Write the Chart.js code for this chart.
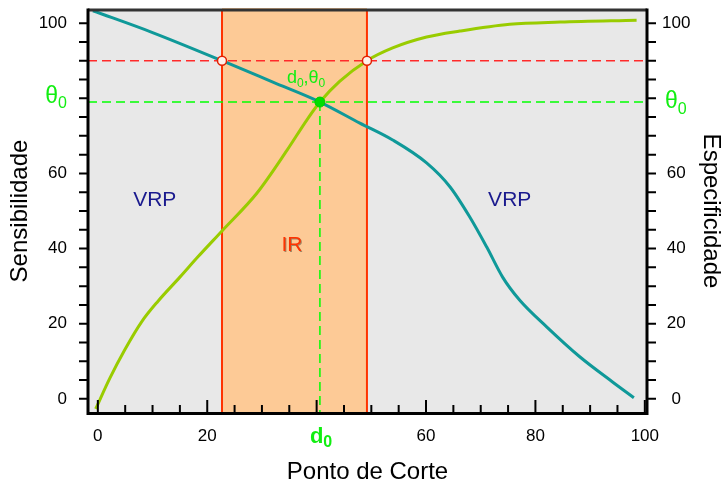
<!DOCTYPE html>
<html>
<head>
<meta charset="utf-8">
<script src="https://cdn.jsdelivr.net/npm/chart.js@4/dist/chart.umd.min.js"></script>
<style>
  html, body { margin: 0; padding: 0; background: #fff; }
  #wrap { width: 725px; height: 488px; }
</style>
</head>
<body>
<div id="wrap"><canvas id="rocChart"></canvas></div>
<script>
// curves (x = ponto de corte)
const specCut = [-0.9, 10, 22.7, 32, 40.6, 47.9, 53.9, 60.1, 64.4, 68, 71.1, 74, 77.1, 82.1, 88.1, 94.1, 98];
const specVals = [103.3, 97.5, 90, 84.3, 79, 73.4, 68.9, 62.8, 56.4, 48.4, 40.4, 32.4, 26.3, 19.1, 11.2, 4.5, 0.3];
const sensCut = [-0.4, 2.2, 4.9, 8, 11, 15, 18.3, 22.7, 29.1, 34.6, 38.2, 40.6, 44.2, 49.2, 53.9, 60.1, 66.2, 75.3, 84.5, 98.5];
const sensVals = [-2.7, 5.5, 13, 20.5, 26, 32.4, 37.8, 44.7, 54.8, 66.2, 74.2, 79, 84.5, 90, 93.4, 96.3, 97.9, 99.7, 100.3, 100.8];

const thetaZero = 79;          // θ0
const dZero = 40.6;            // d0
const irLevel = 90;            // nivel que define o IR
const irBounds = [22.7, 49.2]; // limites do IR

const xRange = [-1.8, 100.4];
const yRange = [-3.5, 103.5];
const xTicks = [0, 20, 40, 60, 80, 100];
const yTicks = [0, 20, 40, 60, 80, 100];
const minorStep = 5;

const regionLabels = ['VRP', 'IR', 'VRP'];
const regionX = [10.4, 35.5, 75.3];
const regionY = [52.9, 41, 52.9];

const FONT = "'Liberation Sans', Arial, sans-serif";
const LIME = '#11ee11';

function toPoints(xs, ys) {
  return xs.map((v, i) => ({ x: v, y: ys[i] }));
}

function drawRuns(ctx, runs, x, y, align) {
  let total = 0;
  runs.forEach(r => { ctx.font = r.font; total += ctx.measureText(r.t).width; });
  let cx = align === 'right' ? x - total : x;
  ctx.textAlign = 'left';
  ctx.textBaseline = 'alphabetic';
  runs.forEach(r => {
    ctx.font = r.font;
    ctx.fillText(r.t, cx, y + (r.dy || 0));
    cx += ctx.measureText(r.t).width;
  });
}

const figurePlugin = {
  id: 'figure',
  beforeDatasetsDraw(chart) {
    const { ctx, chartArea: a, scales: { x } } = chart;
    ctx.save();
    ctx.fillStyle = '#e8e8e8';
    ctx.fillRect(a.left, a.top, a.right - a.left, a.bottom - a.top);
    const x0 = x.getPixelForValue(irBounds[0]);
    const x1 = x.getPixelForValue(irBounds[1]);
    ctx.fillStyle = '#fdca96';
    ctx.fillRect(x0, a.top - 2, x1 - x0, a.bottom - a.top + 4);
    ctx.strokeStyle = '#ff3300';
    ctx.lineWidth = 2;
    [x0, x1].forEach(px => {
      ctx.beginPath();
      ctx.moveTo(px, a.top);
      ctx.lineTo(px, a.bottom);
      ctx.stroke();
    });
    ctx.restore();
  },
  afterDraw(chart) {
    const { ctx, chartArea: a, scales: { x, y } } = chart;
    ctx.save();
    // frame
    ctx.lineWidth = 3;
    ctx.strokeStyle = '#333';
    ctx.beginPath(); ctx.moveTo(a.left, a.top); ctx.lineTo(a.right, a.top); ctx.stroke();
    ctx.strokeStyle = '#000';
    ctx.beginPath();
    ctx.moveTo(a.left, a.top - 1.5); ctx.lineTo(a.left, a.bottom + 1.5);
    ctx.lineTo(a.right, a.bottom + 1.5); ctx.lineTo(a.right, a.top - 1.5);
    ctx.stroke();
    // ticks
    ctx.lineWidth = 2;
    for (let v = 0; v <= 100; v += minorStep) {
      const yp = y.getPixelForValue(v);
      ctx.beginPath();
      ctx.moveTo(a.left - 9, yp); ctx.lineTo(a.left, yp);
      ctx.moveTo(a.right, yp); ctx.lineTo(a.right + 9, yp);
      ctx.stroke();
      const xp = x.getPixelForValue(v);
      const len = v % 20 === 0 ? 12 : 7;
      ctx.beginPath();
      ctx.moveTo(xp, a.bottom); ctx.lineTo(xp, a.bottom - len);
      ctx.stroke();
    }
    // θ0 and d0 tick labels
    const ty = y.getPixelForValue(thetaZero);
    const tx = x.getPixelForValue(dZero);
    ctx.fillStyle = LIME;
    drawRuns(ctx, [
      { t: 'θ', font: `23px ${FONT}` },
      { t: '0', font: `16px ${FONT}`, dy: 5 }
    ], 67, ty + 1, 'right');
    drawRuns(ctx, [
      { t: 'θ', font: `23px ${FONT}` },
      { t: '0', font: `16px ${FONT}`, dy: 6 }
    ], 665, ty + 6, 'left');
    drawRuns(ctx, [
      { t: 'd', font: `bold 22px ${FONT}` },
      { t: '0', font: `bold 16px ${FONT}`, dy: 4 }
    ], tx - 10, 443, 'left');
    drawRuns(ctx, [
      { t: 'd', font: `18px ${FONT}` },
      { t: '0', font: `12px ${FONT}`, dy: 4 },
      { t: ',', font: `18px ${FONT}` },
      { t: 'θ', font: `18px ${FONT}` },
      { t: '0', font: `12px ${FONT}`, dy: 4 }
    ], tx - 33, ty - 19, 'left');
    // region labels
    ctx.font = `21px ${FONT}`;
    ctx.textAlign = 'center';
    ctx.textBaseline = 'middle';
    regionLabels.forEach((t, i) => {
      const px = x.getPixelForValue(regionX[i]);
      const py = y.getPixelForValue(regionY[i]);
      if (t === 'IR') {
        ctx.fillStyle = '#ff3300';
        ctx.shadowColor = 'rgba(0,0,0,0.35)';
        ctx.shadowOffsetX = 1; ctx.shadowOffsetY = 1;
      } else {
        ctx.fillStyle = '#1a1a8e';
        ctx.shadowColor = 'transparent';
      }
      ctx.fillText(t, px, py);
    });
    ctx.restore();
  }
};

function yScale(position, width, padding, crossAlign, titleText, titlePad) {
  return {
    type: 'linear',
    position: position,
    min: yRange[0],
    max: yRange[1],
    afterBuildTicks: s => { s.ticks = yTicks.map(v => ({ value: v })); },
    afterFit: s => { s.width = width; s.paddingTop = 0; s.paddingBottom = 0; },
    grid: { display: false, drawTicks: false },
    border: { display: false },
    ticks: {
      padding: padding,
      crossAlign: crossAlign,
      color: '#000',
      font: { size: 17 },
      callback: v => (v === 80 ? '' : v)
    },
    title: {
      display: true,
      text: titleText,
      color: '#000',
      font: { size: 24 },
      padding: { top: titlePad, bottom: 0 }
    }
  };
}

function buildChart() {
  const ctx = document.getElementById('rocChart').getContext('2d');
  Chart.defaults.font.family = FONT;
  new Chart(ctx, {
    type: 'line',
    data: {
      datasets: [
        {
          data: toPoints(irBounds, [irLevel, irLevel]),
          showLine: false,
          pointRadius: 4.5,
          pointBorderWidth: 1.5,
          pointBorderColor: '#e02000',
          pointBackgroundColor: '#fff1ea'
        },
        {
          data: [{ x: dZero, y: thetaZero }],
          showLine: false,
          pointRadius: 5,
          pointBorderWidth: 1,
          pointBorderColor: '#00cc00',
          pointBackgroundColor: '#00dd00'
        },
        {
          label: 'Especificidade',
          data: toPoints(specCut, specVals),
          borderColor: '#0f9999',
          borderWidth: 3,
          pointRadius: 0,
          cubicInterpolationMode: 'monotone'
        },
        {
          label: 'Sensibilidade',
          data: toPoints(sensCut, sensVals),
          borderColor: '#99cc00',
          borderWidth: 3,
          pointRadius: 0,
          cubicInterpolationMode: 'monotone'
        },
        {
          data: toPoints(xRange, [irLevel, irLevel]),
          borderColor: '#ff2a2a',
          borderWidth: 1.5,
          borderDash: [9, 5],
          pointRadius: 0
        },
        {
          data: toPoints(xRange, [thetaZero, thetaZero]),
          borderColor: '#00ff00',
          borderWidth: 1.5,
          borderDash: [9, 5],
          pointRadius: 0
        },
        {
          data: toPoints([dZero, dZero], [thetaZero, yRange[0]]),
          borderColor: '#00ff00',
          borderWidth: 1.5,
          borderDash: [9, 5],
          pointRadius: 0
        }
      ]
    },
    options: {
      responsive: true,
      maintainAspectRatio: false,
      animation: false,
      events: [],
      layout: { padding: { top: 10, left: 0, right: 0, bottom: 0 } },
      plugins: { legend: { display: false }, tooltip: { enabled: false } },
      scales: {
        x: {
          type: 'linear',
          position: 'bottom',
          min: xRange[0],
          max: xRange[1],
          afterBuildTicks: s => { s.ticks = xTicks.map(v => ({ value: v })); },
          afterFit: s => { s.height = 76; s.paddingLeft = 0; s.paddingRight = 0; },
          grid: { display: false, drawTicks: false },
          border: { display: false },
          ticks: {
            padding: 14,
            color: '#000',
            font: { size: 17 },
            maxRotation: 0,
            callback: v => (v === 40 ? '' : v)
          },
          title: {
            display: true,
            text: 'Ponto de Corte',
            color: '#000',
            font: { size: 24 },
            padding: { top: 0, bottom: 1 }
          }
        },
        y: yScale('left', 88, 21, 'near', 'Sensibilidade', 6),
        y2: yScale('right', 78, 15, 'center', 'Especificidade', 0)
      }
    },
    plugins: [figurePlugin]
  });
}

document.addEventListener('DOMContentLoaded', buildChart);
</script>
</body>
</html>
